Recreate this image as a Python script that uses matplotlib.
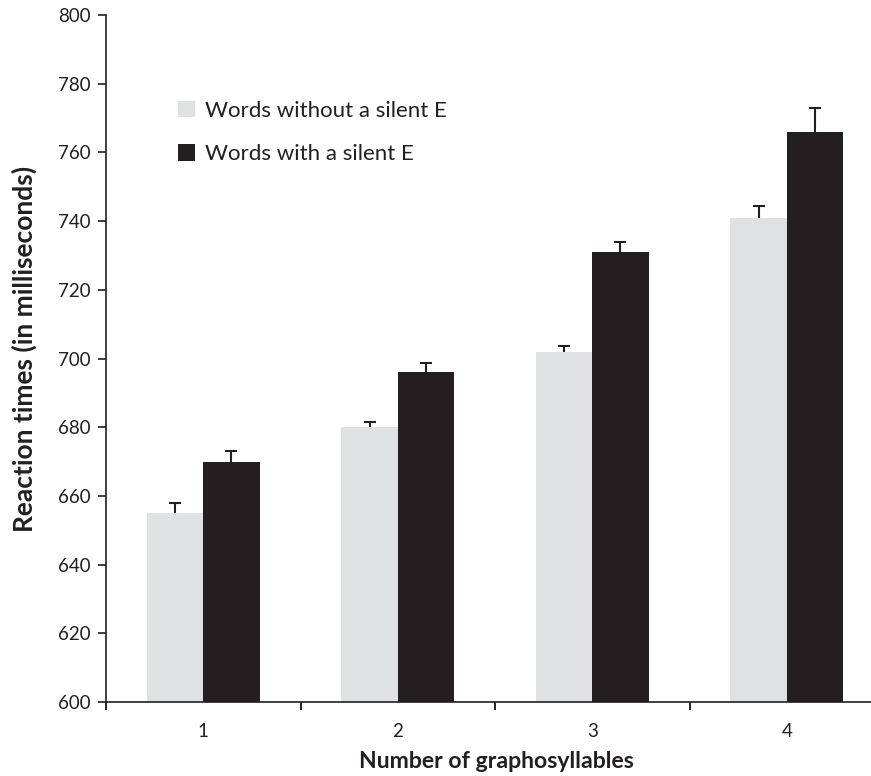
import numpy as np
import matplotlib
matplotlib.use("Agg")
from matplotlib import pyplot as plt

plt.rcParams["font.family"] = ["Lato", "DejaVu Sans"]

categories = ["1", "2", "3", "4"]
without_e = [655, 680, 702, 741]
without_e_err = [3.0, 1.6, 1.5, 3.5]
with_e = [670, 696, 731, 766]
with_e_err = [3.2, 2.7, 3.0, 6.8]

light = "#e0e1e3"
dark = "#231f20"

fig = plt.figure(figsize=(8.71, 7.76), dpi=100)
ax = fig.add_axes([106 / 871, 1 - 702 / 776, (884 - 106) / 871, (702 - 15) / 776])

x = np.arange(len(categories))
w = 0.29
for pos, vals, errs, col, lab in [
    (x - w / 2, without_e, without_e_err, light, "Words without a silent E"),
    (x + w / 2, with_e, with_e_err, dark, "Words with a silent E"),
]:
    vals = np.array(vals)
    errs = np.array(errs)
    ax.bar(pos, vals, w, color=col, label=lab, zorder=2)
    # upper error bar only
    ax.errorbar(pos, vals, yerr=[np.zeros_like(errs), errs], fmt="none",
                ecolor=dark, elinewidth=1.5, capsize=0, zorder=3)
    ax.plot(pos, vals + errs, ls="none", marker="_", ms=8, mew=1.5, color=dark, zorder=3)

ax.set_ylim(600, 800)
ax.set_xlim(-0.5, 3.5)
ax.set_yticks(np.arange(600, 801, 20))
ax.set_xticks(x)
ax.set_xticklabels(categories)
ax.set_xticks(np.arange(-0.5, 3.6, 1), minor=True)
ax.tick_params(axis="x", which="major", length=0, pad=15, labelsize=13.5, colors=dark)
ax.tick_params(axis="x", which="minor", length=6, width=1.2, direction="out")
ax.tick_params(axis="y", length=6, width=1.2, direction="out", labelsize=13.5, pad=5,
               colors=dark)

for s in ["top", "right"]:
    ax.spines[s].set_visible(False)
for s in ["left", "bottom"]:
    ax.spines[s].set_linewidth(1.2)
    ax.spines[s].set_color(dark)

fig.text(496 / 871, 1 - 761 / 776, "Number of graphosyllables", fontsize=16.6,
         fontweight="bold", color=dark, ha="center", va="center")
fig.text(24 / 871, 1 - 349 / 776, "Reaction times (in milliseconds)", fontsize=19,
         fontweight="bold", color=dark, ha="center", va="center", rotation=90)

ax.legend(loc="upper left", bbox_to_anchor=(0.093, 0.875), frameon=False, fontsize=16,
          handlelength=0.75, handleheight=0.75, handletextpad=0.45, labelspacing=1.05,
          borderaxespad=0, borderpad=0, labelcolor=dark)

fig.savefig("out.png", dpi=100)
